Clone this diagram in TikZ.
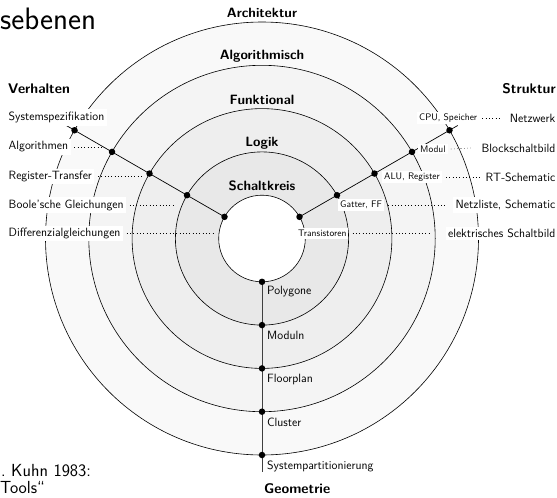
\documentclass[tikz,border=0pt]{standalone}
\usetikzlibrary{calc}
\definecolor{ringA}{gray}{0.975}
\definecolor{ringB}{gray}{0.955}
\definecolor{ringC}{gray}{0.935}
\definecolor{ringD}{gray}{0.91}
\begin{document}
\begin{tikzpicture}[x=1pt,y=-1pt,
  font=\sffamily,
  ring/.style={draw=black, line width=0.6pt},
  axisline/.style={line width=0.7pt},
  pt/.style={circle, fill=black, inner sep=0pt, minimum size=6.5pt},
  lvl/.style={font=\sffamily\bfseries\fontsize{13.5}{15}\selectfont, inner sep=0pt},
  head/.style={font=\sffamily\bfseries\fontsize{14}{16}\selectfont, inner sep=0pt},
  lab/.style={fill=white, inner sep=2.5pt, font=\sffamily\fontsize{12}{14}\selectfont},
  sml/.style={fill=white, inner sep=2pt, font=\sffamily\fontsize{9.5}{11}\selectfont},
  geo/.style={inner sep=1pt, font=\sffamily\fontsize{12}{14}\selectfont},
  lead/.style={line width=0.6pt, dash pattern=on 0.6pt off 2.7pt},
]
\useasboundingbox (0,0) rectangle (557,498);
\coordinate (C) at (262,238.5);
% ring fills
\fill[ringA] (C) circle[radius=216.5pt];
\fill[ringB] (C) circle[radius=173.2pt];
\fill[ringC] (C) circle[radius=129.9pt];
\fill[ringD] (C) circle[radius=86.6pt];
\fill[white] (C) circle[radius=43.3pt];
\foreach \r in {43.3pt,86.6pt,129.9pt,173.2pt,216.5pt}
  \draw[ring] (C) circle[radius=\r];
% axis points
\foreach \i/\r in {0/43.3pt,1/86.6pt,2/129.9pt,3/173.2pt,4/216.5pt} {
  \coordinate (V\i) at ($(C)+(150:\r)$);
  \coordinate (S\i) at ($(C)+(30:\r)$);
  \coordinate (G\i) at ($(C)+(270:\r)$);
}
\coordinate (Vend) at ($(C)+(150:226pt)$);
\coordinate (Send) at ($(C)+(30:226pt)$);
\coordinate (Gend) at ($(C)+(270:233.5pt)$);
\draw[axisline] (V0) -- (Vend);
\draw[axisline] (S0) -- (Send);
\draw[axisline, draw=black!75] (G0) -- (Gend);
\foreach \a in {V,S,G}
  \foreach \i in {0,...,4}
    \node[pt] (d\a\i) at (\a\i) {};
% level names
\node[lvl] (arch) at (262,13) {Architektur};
\node[lvl] (algm) at (262,56) {Algorithmisch};
\node[lvl] (funk) at (262,99.5) {Funktional};
\node[lvl] (logk) at (262,143) {Logik};
\node[lvl] (schk) at (262,186) {Schaltkreis};
% headings
\node[head, anchor=west] (verh) at (8,89) {Verhalten};
\node[head, anchor=east] (strk) at (556,89) {Struktur};
\node[head, anchor=west] (geom) at (264,488.5) {Geometrie};
% left labels
\node[lab, anchor=west] (lsys) at (6,117.5) {Systemspezifikation};
\node[lab, anchor=west] (lalg) at (6,147) {Algorithmen};
\node[lab, anchor=west] (lreg) at (6,176.5) {Register-Transfer};
\node[lab, anchor=west] (lboo) at (6,205) {Boole'sche Gleichungen};
\node[lab, anchor=west] (ldif) at (6,233.5) {Differenzialgleichungen};
\coordinate (ealg) at (101,147);
\coordinate (ereg) at (144,176.5);
\coordinate (eboo) at (176,205);
\coordinate (edif) at (214,233.5);
\draw[lead] ([xshift=3.5pt]lalg.east) -- (ealg);
\draw[lead] ([xshift=3.5pt]lreg.east) -- (ereg);
\draw[lead] ([xshift=3.5pt]lboo.east) -- (eboo);
\draw[lead] ([xshift=3.5pt]ldif.east) -- (edif);
% right labels
\node[lab, anchor=east] (rnet) at (558,118) {Netzwerk};
\node[lab, anchor=east] (rblk) at (558,148) {Blockschaltbild};
\node[lab, anchor=east] (rrts) at (558,177) {RT-Schematic};
\node[lab, anchor=east] (rnzl) at (558,205) {Netzliste, Schematic};
\node[lab, anchor=east] (relk) at (558,233.5) {elektrisches Schaltbild};
\node[sml, anchor=west] (scpu) at (417,118) {CPU, Speicher};
\node[sml, anchor=west] (smod) at (418,149) {Modul};
\node[sml, anchor=west] (salu) at (382,177) {ALU, Register};
\node[sml, anchor=west] (sgat) at (338,205) {Gatter, FF};
\node[sml, anchor=west] (stra) at (296,233.5) {Transistoren};
\draw[lead] ([xshift=3pt]scpu.east) -- ([xshift=-7pt]rnet.west);
\draw[lead] ([xshift=3pt]smod.east) -- ([xshift=-8pt]rblk.west);
\draw[lead] ([xshift=4pt]salu.east) -- ([xshift=-3pt]rrts.west);
\draw[lead] ([xshift=4pt]sgat.east) -- ([xshift=-8pt]rnzl.west);
\draw[lead] ([xshift=4pt]stra.east) -- ([xshift=-14pt]relk.west);
% geometry labels
\node[geo, anchor=west] (gpol) at (266,292) {Polygone};
\node[geo, anchor=west] (gmod) at (266,335) {Moduln};
\node[geo, anchor=west] (gflo) at (266,379) {Floorplan};
\node[geo, anchor=west] (gclu) at (266,422.5) {Cluster};
\node[geo, anchor=west] (gsys) at (266,466.5) {Systempartitionierung};
% slide fragments
\node[anchor=base west, inner sep=0pt, font=\sffamily\fontsize{31}{34}\selectfont] (title) at (0,29) {sebenen};
\node[anchor=base west, inner sep=0pt, font=\sffamily\fontsize{17.5}{20}\selectfont] (ref1) at (1,476) {.\ Kuhn 1983:};
\node[anchor=base west, inner sep=0pt, font=\sffamily\fontsize{17.5}{20}\selectfont] (ref2) at (0,493) {Tools``};
\end{tikzpicture}
\end{document}
